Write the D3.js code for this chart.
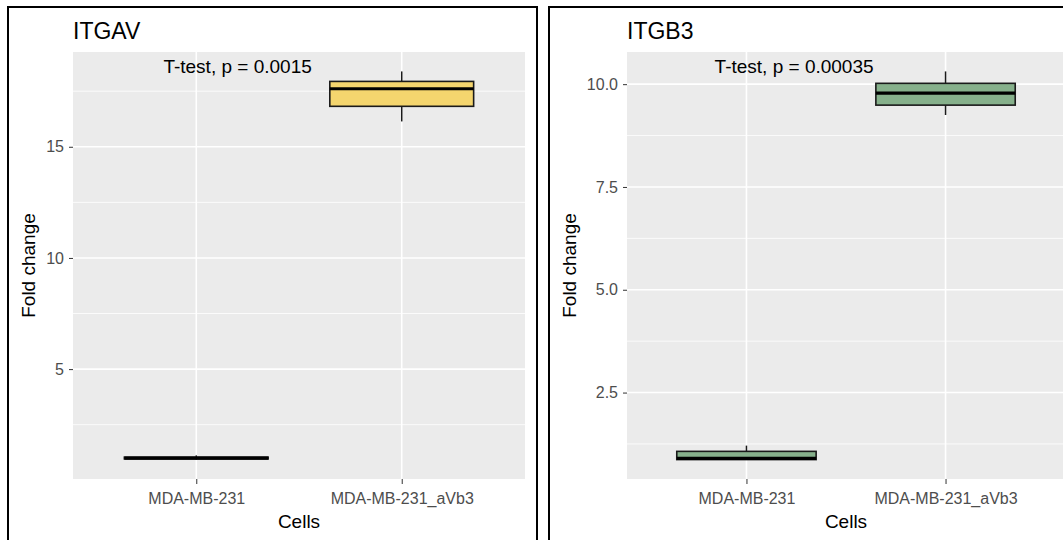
<!DOCTYPE html>
<html>
<head>
<meta charset="utf-8">
<script src="https://cdn.jsdelivr.net/npm/d3@7"></script>
<style>
  body { margin: 0; background: #fff; }
  svg { display: block; font-family: "Liberation Sans", Arial, sans-serif; }
</style>
</head>
<body>
<div id="chart"></div>
<script>
// data
const cells = ["MDA-MB-231", "MDA-MB-231_aVb3"];
const genes = ["ITGAV", "ITGB3"];
const pLabels = ["T-test, p = 0.0015", "T-test, p = 0.00035"];
// [min, q1, median, q3, max] per cell line
const itgavBoxes = [[0.93, 0.96, 1.0, 1.04, 1.12], [16.14, 16.82, 17.61, 17.94, 18.39]];
const itgb3Boxes = [[0.87, 0.87, 0.90, 1.07, 1.21], [9.25, 9.49, 9.78, 10.02, 10.31]];
const itgavTicks = [5, 10, 15];
const itgb3Ticks = [2.5, 5.0, 7.5, 10.0];
const fills = ["#f4d56e", "#86b08b"];

const width = 1063, height = 540;

const svg = d3.select("#chart")
    .append("svg")
    .attr("width", width)
    .attr("height", height);

//panel layout
const panels = [
    { border: 8, left: 73, right: 525, boxes: itgavBoxes, ticks: itgavTicks, fmt: d3.format("d") },
    { border: 549, left: 627, right: 1065, boxes: itgb3Boxes, ticks: itgb3Ticks, fmt: d3.format(".1f") }
];
const plotTop = 52, plotBottom = 479;

panels.forEach((p, i) => {
    const g = svg.append("g");

    // outer frame
    g.append("rect")
        .attr("x", p.border)
        .attr("y", 7)
        .attr("width", 529)
        .attr("height", 560)
        .attr("fill", "none")
        .attr("stroke", "#000")
        .attr("stroke-width", 2);

    const lo = d3.min(p.boxes, d => d[0]), hi = d3.max(p.boxes, d => d[4]);
    const pad = (hi - lo) * 0.05;
    const y = d3.scaleLinear().domain([lo - pad, hi + pad]).range([plotBottom, plotTop]);
    const x = d3.scalePoint().domain(cells).range([p.left, p.right]).padding(0.6);
    const boxW = x.step() * 0.7;

    g.append("rect")
        .attr("x", p.left)
        .attr("y", plotTop)
        .attr("width", p.right - p.left)
        .attr("height", plotBottom - plotTop)
        .attr("fill", "#ebebeb");

    //minor grid halfway between ticks
    const step = p.ticks[1] - p.ticks[0];
    const minor = [p.ticks[0] - step / 2].concat(p.ticks.map(t => t + step / 2))
        .filter(v => v > y.domain()[0] && v < y.domain()[1]);
    g.selectAll(".minor").data(minor).enter().append("line")
        .attr("x1", p.left).attr("x2", p.right)
        .attr("y1", d => y(d)).attr("y2", d => y(d))
        .attr("stroke", "#fff").attr("stroke-width", 0.8);
    g.selectAll(".major").data(p.ticks).enter().append("line")
        .attr("x1", p.left).attr("x2", p.right)
        .attr("y1", d => y(d)).attr("y2", d => y(d))
        .attr("stroke", "#fff").attr("stroke-width", 1.6);
    g.selectAll(".vgrid").data(cells).enter().append("line")
        .attr("x1", d => x(d)).attr("x2", d => x(d))
        .attr("y1", plotTop).attr("y2", plotBottom)
        .attr("stroke", "#fff").attr("stroke-width", 1.6);

    // boxplots
    const box = g.selectAll(".box").data(p.boxes).enter().append("g");
    box.append("line")
        .attr("x1", (d, j) => x(cells[j])).attr("x2", (d, j) => x(cells[j]))
        .attr("y1", d => y(d[0])).attr("y2", d => y(d[4]))
        .attr("stroke", "#1a1a1a").attr("stroke-width", 1.5);
    box.append("rect")
        .attr("x", (d, j) => x(cells[j]) - boxW / 2)
        .attr("width", boxW)
        .attr("y", d => y(d[3]))
        .attr("height", d => y(d[1]) - y(d[3]))
        .attr("fill", fills[i])
        .attr("stroke", "#1a1a1a").attr("stroke-width", 1.6);
    box.append("line")
        .attr("x1", (d, j) => x(cells[j]) - boxW / 2).attr("x2", (d, j) => x(cells[j]) + boxW / 2)
        .attr("y1", d => y(d[2])).attr("y2", d => y(d[2]))
        .attr("stroke", "#000").attr("stroke-width", 3.2);

    // axes
    const yAxis = g.append("g")
        .attr("transform", `translate(${p.left},0)`)
        .call(d3.axisLeft(y).tickValues(p.ticks).tickFormat(p.fmt).tickSize(4).tickPadding(5));
    const xAxis = g.append("g")
        .attr("transform", `translate(0,${plotBottom})`)
        .call(d3.axisBottom(x).tickSize(5).tickPadding(9));
    [yAxis, xAxis].forEach(a => {
        a.select(".domain").remove();
        a.selectAll(".tick line").attr("stroke", "#333");
        a.selectAll(".tick text")
            .attr("fill", "#4d4d4d")
            .attr("font-size", 16)
            .attr("font-family", "Liberation Sans, Arial, sans-serif");
    });

    // texts
    g.append("text")
        .attr("x", p.left)
        .attr("y", 39)
        .attr("font-size", 23)
        .text(genes[i]);

    g.append("text")
        .attr("x", x(cells[0]) - x.step() * 0.16)
        .attr("y", 73)
        .attr("font-size", 19)
        .text(pLabels[i]);

    g.append("text")
        .attr("x", (p.left + p.right) / 2)
        .attr("y", 528)
        .attr("text-anchor", "middle")
        .attr("font-size", 19)
        .text("Cells");

    g.append("text")
        .attr("transform", `translate(${p.border + 27},${(plotTop + plotBottom) / 2}) rotate(-90)`)
        .attr("text-anchor", "middle")
        .attr("font-size", 19)
        .text("Fold change");
});
</script>
</body>
</html>
